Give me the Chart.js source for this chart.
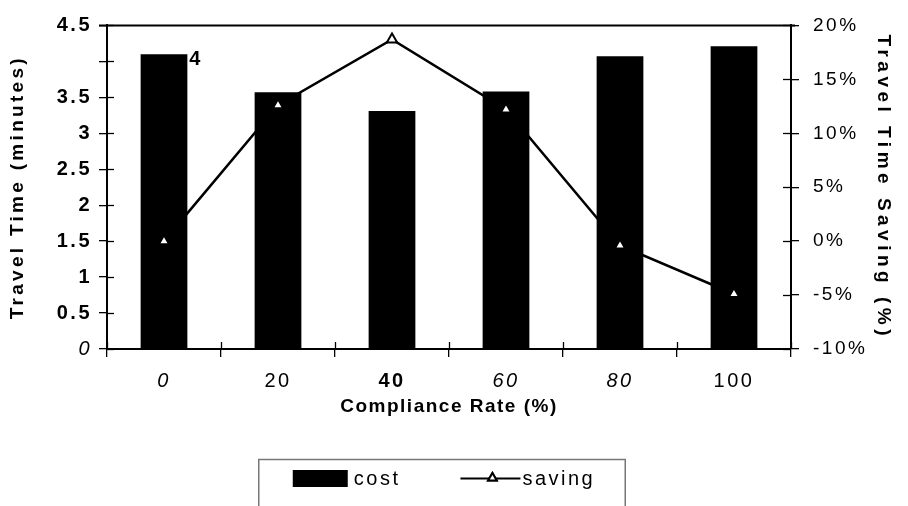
<!DOCTYPE html>
<html>
<head>
<meta charset="utf-8">
<script src="https://cdn.jsdelivr.net/npm/chart.js@4/dist/chart.umd.min.js"></script>
<style>
  html, body { margin: 0; padding: 0; background: #fff; }
  canvas { display: block; }
</style>
</head>
<body>
<canvas id="chart" width="908" height="506"></canvas>
<script>
// Travel time per compliance rate (bars, left axis) and travel time saving (line, right axis)
const categories = ['0', '20', '40', '60', '80', '100'];
const costValues = [4.1, 3.57, 3.31, 3.58, 4.07, 4.21];
const savingValues = [0, 12.6, 18.7, 12.2, -0.4, -4.9];
const timeTicks = [0, 0.5, 1, 1.5, 2, 2.5, 3, 3.5, 4, 4.5];
const savingTicks = [-10, -5, 0, 5, 10, 15, 20];
// the "4" tick label sits beside the first bar instead of on the axis
const besideBarTick = 4;

const FONT = '"Liberation Sans", Arial, Helvetica, sans-serif';
const xLabelLook = [
  { style: 'italic', weight: 'normal' },
  { style: 'normal', weight: 'normal' },
  { style: 'normal', weight: 'bold' },
  { style: 'italic', weight: 'normal' },
  { style: 'italic', weight: 'normal' },
  { style: 'normal', weight: 'normal' }
];
const INNER_TICK = 7;

// run a scale's label/title drawing with its own letter spacing
function spaceScaleText(scale, labelSpacing, titleSpacing) {
  if (scale.__spaced) return;
  scale.__spaced = true;
  const drawLabels = scale.drawLabels;
  const drawTitle = scale.drawTitle;
  scale.drawLabels = function (area) {
    const c = this.ctx, prev = c.letterSpacing;
    c.letterSpacing = labelSpacing;
    drawLabels.call(this, area);
    c.letterSpacing = prev;
  };
  scale.drawTitle = function (area) {
    const c = this.ctx, prev = c.letterSpacing;
    c.letterSpacing = titleSpacing;
    drawTitle.call(this, area);
    c.letterSpacing = prev;
  };
}

function line(ctx, x1, y1, x2, y2) {
  ctx.beginPath();
  ctx.moveTo(x1, y1);
  ctx.lineTo(x2, y2);
  ctx.stroke();
}

const plotFrame = {
  id: 'plotFrame',
  afterDraw(chart) {
    const { ctx, chartArea: a, scales } = chart;
    const yL = scales.y, yR = scales.y1, x = scales.x;
    ctx.save();
    ctx.strokeStyle = '#000';

    // top border of the plot
    ctx.lineWidth = 2;
    line(ctx, a.left - 8, a.top, a.right + 4, a.top);

    // tick marks cross the axes: draw the inner halves
    ctx.lineWidth = 1.3;
    yL.ticks.forEach((t, i) => {
      const p = Math.round(yL.getPixelForTick(i)) + 0.5;
      line(ctx, a.left, p, a.left + INNER_TICK, p);
    });
    yR.ticks.forEach((t, i) => {
      const p = Math.round(yR.getPixelForTick(i)) + 0.5;
      line(ctx, a.right - INNER_TICK - 1, p, a.right, p);
    });
    for (let i = 0; i <= categories.length; i++) {
      const p = Math.round(x.getPixelForValue(i - 0.5)) + 0.5;
      line(ctx, p, a.bottom - INNER_TICK, p, a.bottom);
    }

    // "4" tick label drawn just right of the first bar
    const bar0 = chart.getDatasetMeta(0).data[0];
    ctx.fillStyle = '#000';
    ctx.font = `bold 20px ${FONT}`;
    ctx.textAlign = 'left';
    ctx.textBaseline = 'middle';
    ctx.letterSpacing = '0px';
    ctx.fillText(String(besideBarTick), bar0.x + bar0.width / 2 + 2, yL.getPixelForValue(besideBarTick) - 2);

    // legend
    ctx.font = `20px ${FONT}`;
    ctx.letterSpacing = '2.5px';
    const ds = chart.data.datasets;
    const entries = ds.map((d) => ({
      d,
      sym: d.type === 'line' ? 60 : 55,
      gap: d.type === 'line' ? 2 : 6,
      tw: ctx.measureText(d.label).width
    }));
    const itemGap = 60;
    let total = itemGap * (entries.length - 1);
    entries.forEach((e) => { total += e.sym + e.gap + e.tw; });
    const cy = 478;
    let cx = chart.width / 2 - 10 - total / 2;
    const boxLeft = cx - 34, boxRight = cx + total + 30;
    entries.forEach((e) => {
      if (e.d.type === 'line') {
        ctx.strokeStyle = e.d.borderColor;
        ctx.lineWidth = 2;
        line(ctx, cx, cy + 0.5, cx + e.sym, cy + 0.5);
        Chart.helpers.drawPoint(ctx, {
          pointStyle: e.d.pointStyle, radius: 5, rotation: 0, borderWidth: 2
        }, cx + e.sym / 2 + 2, cy);
        ctx.fillStyle = e.d.pointBackgroundColor;
        ctx.strokeStyle = e.d.pointBorderColor;
        ctx.fill();
        ctx.stroke();
      } else {
        ctx.fillStyle = e.d.backgroundColor;
        ctx.fillRect(cx, cy - 8, e.sym, 17);
      }
      cx += e.sym + e.gap;
      ctx.fillStyle = '#000';
      ctx.textBaseline = 'middle';
      ctx.fillText(e.d.label, cx, cy + 1);
      cx += e.tw + itemGap;
    });
    ctx.letterSpacing = '0px';
    ctx.strokeStyle = '#777';
    ctx.lineWidth = 1.5;
    ctx.beginPath();
    ctx.moveTo(boxLeft, chart.height + 2);
    ctx.lineTo(boxLeft, 459.5);
    ctx.lineTo(boxRight, 459.5);
    ctx.lineTo(boxRight, chart.height + 2);
    ctx.stroke();
    ctx.restore();
  }
};

new Chart(document.getElementById('chart'), {
  type: 'bar',
  data: {
    labels: categories,
    datasets: [
      {
        type: 'bar',
        label: 'cost',
        data: costValues,
        yAxisID: 'y',
        backgroundColor: '#000',
        borderWidth: 0,
        barPercentage: 0.41,
        categoryPercentage: 1.0,
        order: 1
      },
      {
        type: 'line',
        label: 'saving',
        data: savingValues,
        yAxisID: 'y1',
        borderColor: '#000',
        borderWidth: 2.5,
        tension: 0,
        pointStyle: 'triangle',
        pointRadius: 6,
        pointBorderWidth: 2,
        pointBackgroundColor: '#fff',
        pointBorderColor: '#000',
        order: 0
      }
    ]
  },
  options: {
    responsive: false,
    animation: false,
    layout: { padding: { top: 23, left: 0, right: 0, bottom: 84 } },
    plugins: {
      legend: { display: false },
      tooltip: { enabled: false }
    },
    scales: {
      x: {
        offset: true,
        grid: {
          display: true, offset: true, drawOnChartArea: false, drawTicks: true,
          tickLength: 8, color: '#000', lineWidth: 1.3
        },
        border: { display: true, color: '#000', width: 2 },
        ticks: {
          color: '#000', padding: 12, maxRotation: 0, autoSkip: false,
          font: (c) => Object.assign({ family: FONT, size: 20 }, xLabelLook[c.index] || {})
        },
        title: {
          display: true, text: 'Compliance Rate (%)', color: '#000',
          font: { family: FONT, size: 19, weight: 'bold' },
          padding: { top: 4, bottom: 4 }
        },
        afterFit(s) { s.height = 73; spaceScaleText(s, '2.5px', '1.5px'); }
      },
      y: {
        position: 'left',
        min: 0, max: 4.5,
        afterBuildTicks(s) { s.ticks = timeTicks.map((v) => ({ value: v })); },
        grid: { drawOnChartArea: false, drawTicks: true, tickLength: 8, color: '#000', lineWidth: 1.3 },
        border: { display: true, color: '#000', width: 2 },
        ticks: {
          color: '#000', padding: 7,
          callback: (v) => (v === besideBarTick ? '' : String(v)),
          font: (c) => (c.tick && c.tick.value === 0
            ? { family: FONT, size: 20, style: 'italic', weight: 'normal' }
            : { family: FONT, size: 20, weight: 'bold' })
        },
        title: {
          display: true, text: 'Travel Time (minutes)', color: '#000',
          font: { family: FONT, size: 19, weight: 'bold' },
          padding: { top: 6, bottom: 0 }
        },
        afterFit(s) { s.width = 107; spaceScaleText(s, '2.5px', '3.3px'); }
      },
      y1: {
        position: 'right',
        min: -10, max: 20,
        afterBuildTicks(s) { s.ticks = savingTicks.map((v) => ({ value: v })); },
        grid: { drawOnChartArea: false, drawTicks: true, tickLength: 8, color: '#000', lineWidth: 1.3 },
        border: { display: true, color: '#000', width: 2 },
        ticks: {
          color: '#000', padding: 14,
          callback: (v) => v + '%',
          font: { family: FONT, size: 19 }
        },
        title: {
          display: true, text: 'Travel Time Saving (%)', color: '#000',
          font: { family: FONT, size: 19, weight: 'bold' },
          padding: { top: 13, bottom: 0 }
        },
        afterFit(s) { s.width = 117; spaceScaleText(s, '2.5px', '4.5px'); }
      }
    }
  },
  plugins: [plotFrame]
});
</script>
</body>
</html>
